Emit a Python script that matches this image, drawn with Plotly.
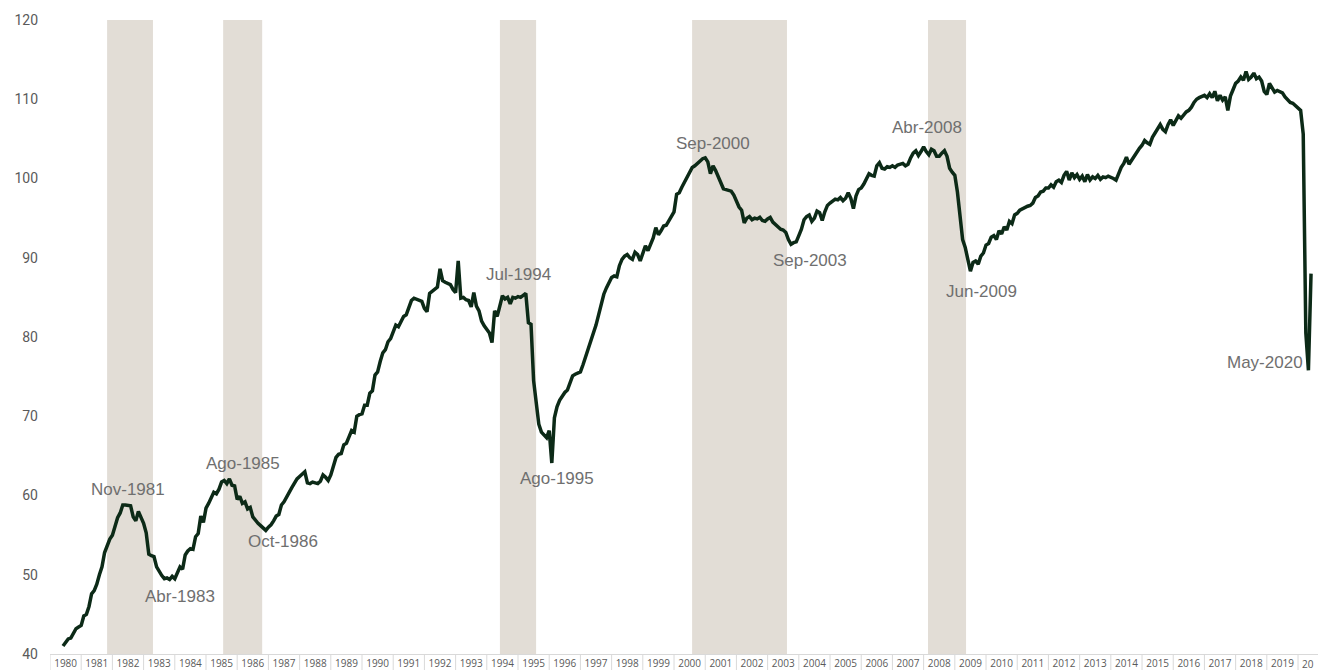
import plotly.graph_objects as go

# ---------------- data (monthly index) ----------------
START_YEAR = 1980
START_MONTH = 6  # first observation: Jun-1980

v1980 = [41.0, 41.4, 41.9, 42.0, 42.6, 43.2, 43.4]
v1981 = [43.6, 44.8, 45.0, 46.0, 47.6, 48.0, 48.8, 50.0, 51.0, 52.8, 53.8, 54.5]
v1982 = [55.0, 56.3, 57.2, 57.8, 58.8, 58.8, 58.8, 58.7, 57.3, 56.8, 58.0, 57.2]
v1983 = [56.5, 55.3, 52.6, 52.4, 52.3, 51.0, 50.4, 49.9, 49.5, 49.6, 49.4, 49.8]
v1984 = [49.5, 50.3, 51.0, 50.7, 52.5, 53.0, 53.3, 53.2, 54.8, 55.2, 57.4, 56.6]
v1985 = [58.4, 59.0, 59.8, 60.4, 60.2, 60.8, 61.7, 61.9, 61.5, 62.1, 61.3, 61.2]
v1986 = [59.5, 59.9, 59.0, 59.2, 58.3, 58.5, 57.3, 56.8, 56.5, 56.2, 55.9, 55.6]
v1987 = [56.0, 56.3, 56.8, 57.4, 57.6, 58.8, 59.2, 59.9, 60.4, 61.0, 61.6, 62.1]
v1988 = [62.4, 62.7, 63.0, 61.6, 61.5, 61.7, 61.6, 61.5, 61.8, 62.6, 62.3, 61.9]
v1989 = [62.6, 63.6, 64.8, 65.2, 65.3, 66.4, 66.6, 67.4, 68.2, 68.0, 70.0, 70.2]
v1990 = [70.3, 71.4, 71.4, 72.9, 73.2, 75.2, 75.6, 76.9, 78.0, 78.4, 79.4, 79.8]
v1991 = [80.6, 81.5, 81.3, 81.9, 82.6, 82.8, 83.8, 84.6, 84.9, 84.8, 84.6, 84.5]
v1992 = [83.6, 83.2, 85.5, 85.8, 86.0, 86.3, 88.6, 87.1, 86.9, 86.8, 86.6, 86.0]
v1993 = [85.6, 89.6, 84.9, 85.0, 84.7, 84.6, 83.8, 85.6, 83.9, 83.3, 82.0, 81.4]
v1994 = [80.9, 80.5, 79.3, 83.3, 82.6, 84.0, 85.2, 84.8, 85.0, 84.2, 85.0, 84.9]
v1995 = [85.1, 85.0, 85.3, 85.5, 81.8, 81.6, 74.5, 71.8, 69.0, 68.0, 67.6, 67.3]
v1996 = [68.2, 64.1, 69.8, 71.2, 72.0, 72.6, 73.0, 73.3, 74.3, 75.1, 75.3, 75.4]
v1997 = [75.6, 76.5, 77.5, 78.5, 79.3, 80.2, 81.5, 82.8, 84.3, 85.4, 86.2, 86.9]
v1998 = [87.5, 87.7, 87.6, 89.0, 89.8, 90.2, 90.4, 90.0, 89.8, 90.7, 90.4, 89.6]
v1999 = [90.6, 91.5, 90.9, 91.6, 92.5, 93.8, 92.9, 93.4, 94.0, 94.1, 94.6, 95.2]
v2000 = [95.8, 98.0, 98.2, 98.9, 99.5, 100.2, 100.9, 101.4, 101.6, 101.9, 102.3, 102.5]
v2001 = [102.6, 102.1, 100.6, 101.6, 101.0, 100.2, 99.3, 98.7, 98.6, 98.5, 98.4, 97.9]
v2002 = [97.0, 96.4, 96.0, 94.4, 95.0, 95.2, 94.8, 95.0, 94.9, 95.1, 94.7, 94.6]
v2003 = [94.9, 95.1, 94.5, 94.2, 94.0, 93.6, 93.5, 93.2, 92.3, 91.7, 91.9, 92.0]
v2004 = [92.8, 93.6, 94.8, 95.2, 95.4, 94.6, 95.0, 95.9, 95.7, 94.7, 95.8, 96.6]
v2005 = [96.9, 97.2, 97.4, 97.3, 97.6, 97.2, 97.5, 98.2, 97.5, 96.2, 97.8, 98.6]
v2006 = [98.8, 99.3, 100.0, 100.6, 100.4, 100.3, 101.6, 102.0, 101.3, 101.2, 101.5, 101.4]
v2007 = [101.6, 101.4, 101.7, 101.8, 101.9, 101.6, 101.8, 102.6, 103.2, 103.5, 102.9, 103.4]
v2008 = [104.0, 103.4, 103.0, 103.7, 103.5, 102.8, 102.8, 103.2, 103.5, 102.8, 101.3, 100.8]
v2009 = [100.4, 98.3, 95.5, 92.3, 91.3, 90.0, 88.3, 89.4, 89.6, 89.2, 90.2, 90.6]
v2010 = [91.6, 91.8, 92.6, 92.8, 92.3, 93.4, 93.0, 93.9, 93.5, 94.6, 94.3, 95.4]
v2011 = [95.6, 96.0, 96.2, 96.3, 96.5, 96.6, 96.9, 97.6, 97.8, 98.3, 98.4, 98.8]
v2012 = [98.8, 99.2, 98.9, 99.6, 99.8, 99.5, 100.4, 100.9, 99.8, 100.7, 100.1, 100.5]
v2013 = [99.9, 100.3, 99.6, 100.5, 99.8, 100.2, 100.0, 100.4, 99.9, 100.2, 100.1, 100.3]
v2014 = [100.2, 100.0, 99.8, 100.6, 101.4, 101.9, 102.7, 101.8, 102.3, 102.9, 103.4, 103.8]
v2015 = [104.2, 104.8, 104.5, 104.3, 105.2, 105.8, 106.3, 106.8, 106.2, 105.9, 106.8, 107.4]
v2016 = [106.7, 107.4, 107.9, 107.6, 108.0, 108.4, 108.6, 109.0, 109.6, 110.0, 110.2, 110.3]
v2017 = [110.5, 110.2, 110.7, 110.2, 111.0, 109.8, 110.5, 109.9, 110.3, 108.6, 110.4, 111.2]
v2018 = [112.0, 112.3, 112.8, 112.4, 113.5, 112.5, 112.8, 113.3, 112.6, 112.8, 112.3, 111.0]
v2019 = [110.6, 112.0, 111.4, 110.9, 111.1, 110.9, 110.8, 110.3, 110.0, 109.6, 109.5, 109.2]
v2020 = [108.9, 108.6, 105.6, 80.5, 75.8, 88.0]

index_values = (v1980 + v1981 + v1982 + v1983 + v1984 + v1985 + v1986 + v1987
                + v1988 + v1989 + v1990 + v1991 + v1992 + v1993 + v1994 + v1995
                + v1996 + v1997 + v1998 + v1999 + v2000 + v2001 + v2002 + v2003
                + v2004 + v2005 + v2006 + v2007 + v2008 + v2009 + v2010 + v2011
                + v2012 + v2013 + v2014 + v2015 + v2016 + v2017 + v2018 + v2019
                + v2020)

# recession periods (decimal years)
recession_start = [1981.83, 1985.55, 1994.42, 2000.58, 2008.14]
recession_end = [1983.30, 1986.80, 1995.58, 2003.62, 2009.36]

# turning-point labels
turning_labels = ["Nov-1981", "Abr-1983", "Ago-1985", "Oct-1986", "Jul-1994",
                  "Ago-1995", "Sep-2000", "Sep-2003", "Abr-2008", "Jun-2009",
                  "May-2020"]

years = list(range(1980, 2020))
last_year_label = "20"  # the 2020 cell label is cut by the right edge
y_ticks = [40, 50, 60, 70, 80, 90, 100, 110, 120]

# ---------------- layout placements for labels ----------------
label_pos = [  # (x, y, xanchor)
    (1982.50, 60.7, "center"),
    (1984.17, 47.2, "center"),
    (1986.19, 64.0, "center"),
    (1987.47, 54.2, "center"),
    (1995.00, 87.85, "center"),
    (1996.25, 62.2, "center"),
    (2001.25, 104.4, "center"),
    (2004.36, 89.6, "center"),
    (2008.11, 106.4, "center"),
    (2009.84, 85.8, "center"),
    (2020.22, 76.8, "right"),
]

x_vals = [START_YEAR + (START_MONTH - 1 + i) / 12 for i in range(len(index_values))]

fig = go.Figure()
fig.add_trace(go.Scatter(
    x=x_vals, y=index_values, mode="lines",
    line=dict(color="#0c2a17", width=3.5),
    hoverinfo="skip", showlegend=False,
))

shapes = []
for s, e in zip(recession_start, recession_end):
    shapes.append(dict(type="rect", xref="x", yref="paper", x0=s, x1=e, y0=0, y1=1,
                       fillcolor="#e2ddd6", line=dict(width=0), layer="below"))
for yr in years + [2020]:
    shapes.append(dict(type="line", xref="x", yref="paper", x0=yr, x1=yr,
                       y0=0, y1=-0.04, line=dict(color="#d9d9d9", width=1)))

year_font = dict(family="Open Sans, Roboto, sans-serif", size=10, color="#5a5a5a")

annotations = []
for txt, (ax, ay, anc) in zip(turning_labels, label_pos):
    annotations.append(dict(x=ax, y=ay, xref="x", yref="y", text=txt, showarrow=False,
                            xanchor=anc, yanchor="middle",
                            font=dict(family="Liberation Sans, Arial, sans-serif",
                                      size=17, color="#6f6f6f")))
annotations.append(dict(x=2020.05, y=0, xref="x", yref="paper", text=last_year_label,
                        showarrow=False, xanchor="left", yanchor="top", yshift=-1,
                        font=year_font))

fig.update_layout(
    width=1318, height=670,
    margin=dict(l=50, r=0, t=20, b=13),
    paper_bgcolor="white", plot_bgcolor="white",
    shapes=shapes, annotations=annotations,
    xaxis=dict(range=[1980, 2020.64], showgrid=False, zeroline=False,
               showline=True, linecolor="#d9d9d9", linewidth=1,
               tickmode="array", tickvals=[y + 0.5 for y in years],
               ticktext=[str(y) for y in years], ticks="",
               tickfont=year_font),
    yaxis=dict(range=[40, 120], showgrid=False, zeroline=False, showline=False,
               tickmode="array", tickvals=y_ticks, ticks="", ticklabelstandoff=11,
               tickfont=dict(family="Liberation Sans Narrow, Roboto, sans-serif",
                             size=14, color="#5a5a5a")),
)

fig.write_html("out.html", config={"displayModeBar": False},
               post_script="document.body.style.margin='0';document.body.style.overflow='hidden';")
